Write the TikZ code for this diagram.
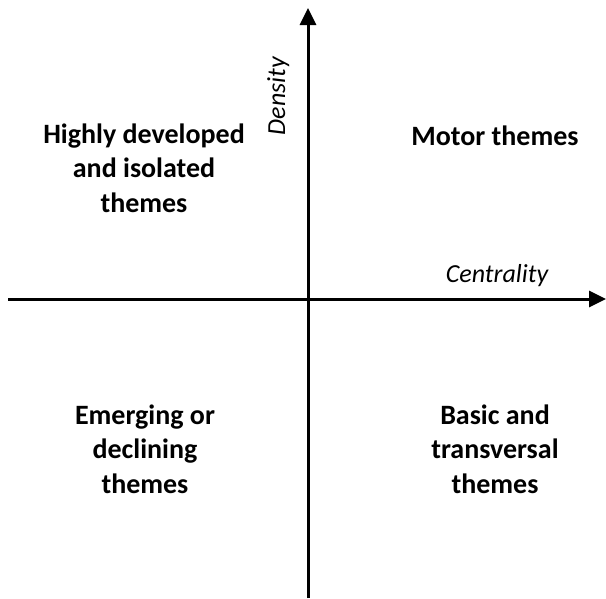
\documentclass[tikz,border=0pt]{standalone}
\usepackage{fontspec}
\setmainfont{Carlito}
\usetikzlibrary{arrows.meta}

\begin{document}
\begin{tikzpicture}[
    x=1pt, y=-1pt,
    axis/.style={-{Triangle[length=17pt,width=16pt]}, line width=3pt},
    theme/.style={anchor=base, align=center, font=\fontsize{28}{34.5}\selectfont\bfseries},
    axislabel/.style={anchor=base, font=\fontsize{26}{30}\selectfont\itshape}
]
\useasboundingbox (0,0) rectangle (606,598);

% Axes
\coordinate (west) at (8,299);
\coordinate (east) at (606,299);
\coordinate (south) at (308,598);
\coordinate (north) at (308,8);
\draw[axis] (west) -- (east);
\draw[axis] (south) -- (north);

% Axis labels
\node[axislabel] (centrality) at (497,282) {Centrality};
\node[axislabel, rotate=90] (density) at (285,96) {Density};

% Quadrants
\node[theme] (isolated) at (144,212) {Highly developed\\and isolated\\themes};
\node[theme] (motor) at (495,145) {Motor themes};
\node[theme] (emerging) at (145,493) {Emerging or\\declining\\themes};
\node[theme] (basic) at (495,493) {Basic and\\transversal\\themes};

\end{tikzpicture}
\end{document}
